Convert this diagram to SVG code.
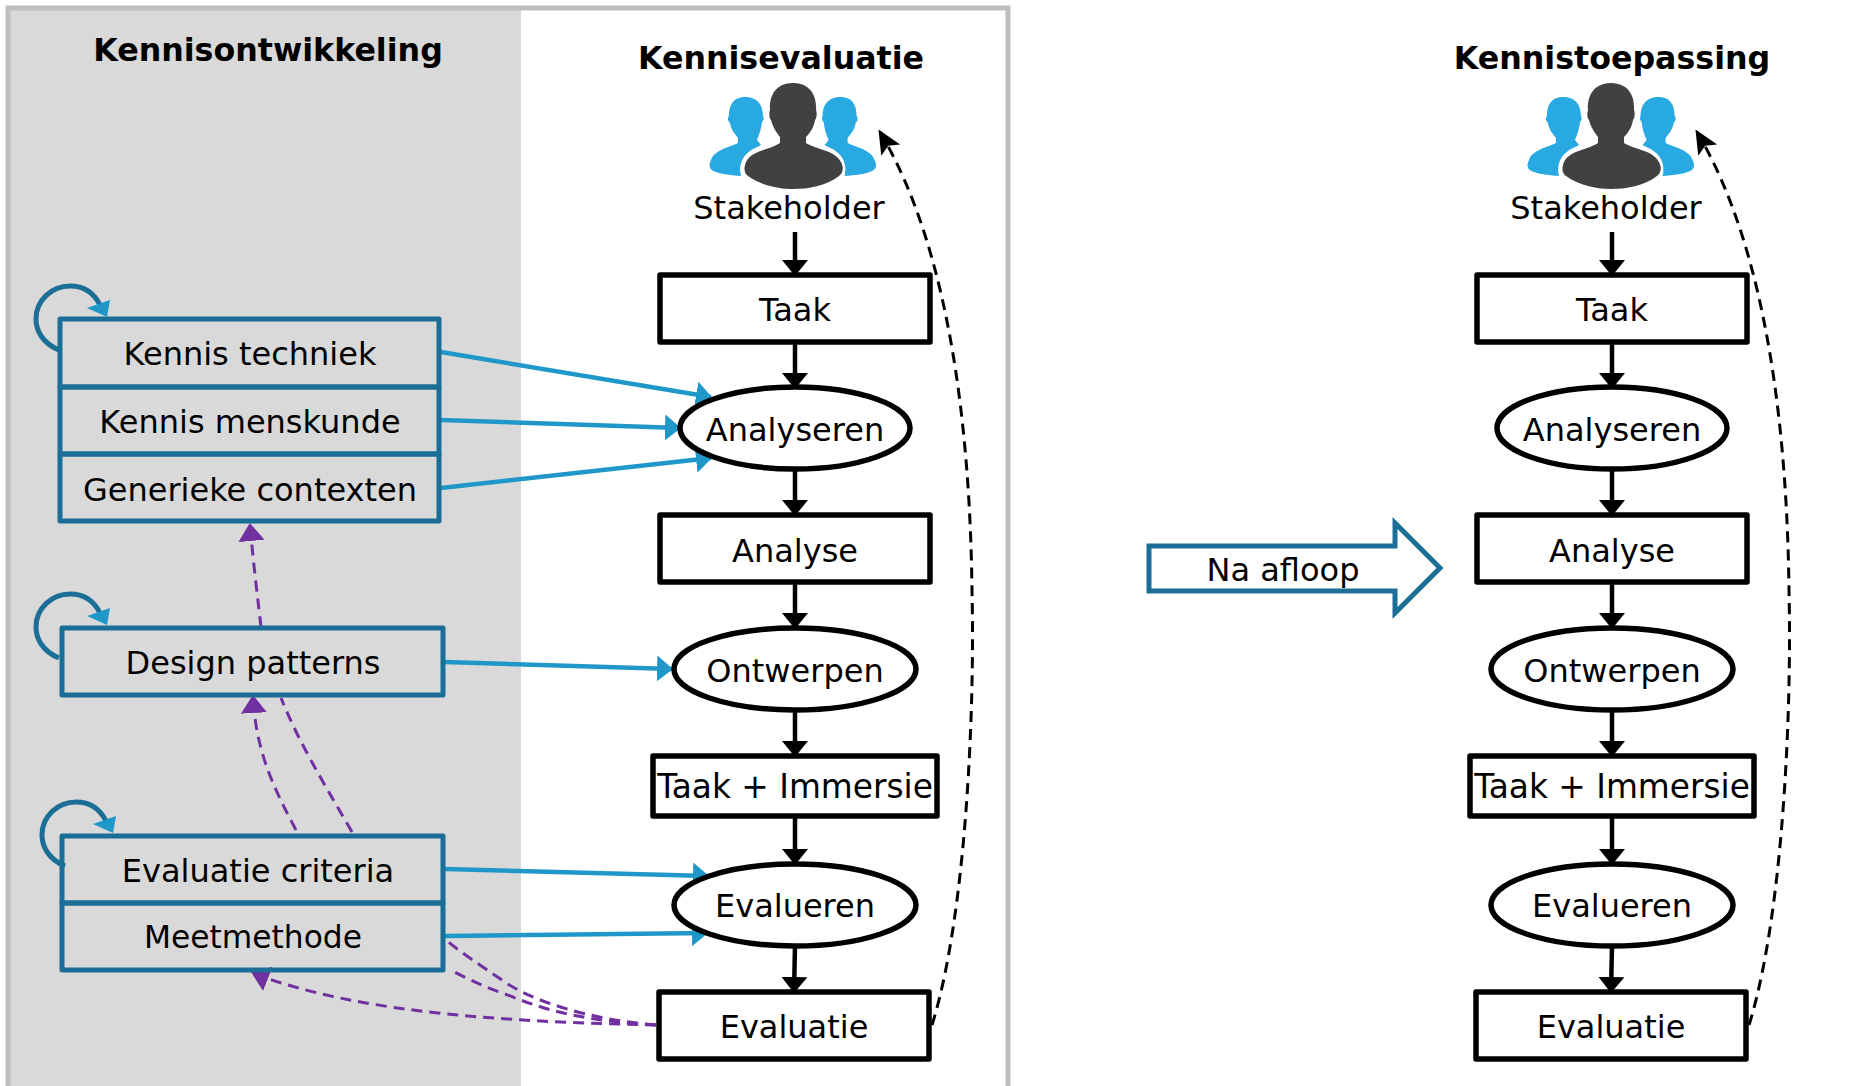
<svg xmlns="http://www.w3.org/2000/svg" xmlns:xlink="http://www.w3.org/1999/xlink" width="1849" height="1086" viewBox="0 0 1849 1086">
<style>
text{font-family:"DejaVu Sans",Verdana,sans-serif;font-size:32px;fill:#000;text-anchor:middle}
.h{font-weight:700;font-size:31.7px}
.w{font-size:32.8px}
.b{fill:#fff;stroke:#000;stroke-width:5.5;stroke-linejoin:round}
.k{fill:none;stroke:#1B6E95;stroke-width:5;stroke-linejoin:round}
.f{fill:none;stroke:#000;stroke-width:4.5}
.bl{fill:none;stroke:#1F97C8;stroke-width:4.5;marker-end:url(#mb)}
.p{fill:none;stroke:#7030A0;stroke-width:3;stroke-dasharray:11 7}
.d{fill:none;stroke:#000;stroke-width:3;stroke-dasharray:11 7;marker-end:url(#md)}
</style>
<defs>
<marker id="mf" markerUnits="userSpaceOnUse" markerWidth="16" markerHeight="26" refX="15" refY="13" orient="auto" viewBox="0 0 16 26"><path d="M0 0L16 13L0 26Z" fill="#000"/></marker>
<marker id="mb" markerUnits="userSpaceOnUse" markerWidth="16" markerHeight="26" refX="15" refY="13" orient="auto" viewBox="0 0 16 26"><path d="M0 0L16 13L0 26Z" fill="#1F97C8"/></marker>
<marker id="mp" markerUnits="userSpaceOnUse" markerWidth="18" markerHeight="26" refX="16" refY="13" orient="auto" viewBox="0 0 18 26"><path d="M0 0L18 13L0 26Z" fill="#7030A0"/></marker>
<marker id="md" markerUnits="userSpaceOnUse" markerWidth="24" markerHeight="24" refX="21" refY="12" orient="auto" viewBox="0 0 24 24"><path d="M0 1L24 12L0 23L5 12Z" fill="#000"/></marker>
<g id="loop">
<path d="M59 342C42 335 36 322 36 311C36 292 52 278 70 278C84 278 94 285 100 297" fill="none" stroke="#1B6E95" stroke-width="5"/>
<path d="M110 292L87 300L107 309Z" fill="#1F97C8"/>
</g>
<g id="people">
<g id="side"><path d="M745 97C732 97 729 107 729 116C727 118 728 121 730 123C731 130 735 134 738 138L738 143C730 147 714 150 711 160C707 168 712 171 716 172C724 175 732 175 741 176C739 168 740 158 750 151C752 149 758 147 761 145L757 140C759 135 761 130 762 122C764 120 764 118 763 116C763 107 759 97 745 97Z" fill="#29A9E1"/></g>
<use xlink:href="#side" href="#side" transform="translate(1585.6 0) scale(-1 1)"/>
<path d="M793 83C775 83 769 97 770 110C769 113 769 118 771 120C773 128 777 133 780 137L780 143C770 150 752 150 746 162C743 170 745 174 748 176C762 186 780 189 793 189C808 189 826 186 839 176C843 173 844 168 841 162C835 150 817 150 806 143L806 137C810 133 814 127 815 120C817 118 817 112 816 110C817 97 811 83 793 83Z" fill="#414042"/>
</g>
</defs>
<rect width="1849" height="1086" fill="#fff"/>
<g id="frame">
<rect x="8" y="8" width="513" height="1090" fill="#D9D9D9"/>
<rect x="8" y="8" width="1000" height="1090" fill="none" stroke="#BFBFBF" stroke-width="5"/>
</g>
<g id="titles">
<text class="h" x="268" y="61">Kennisontwikkeling</text>
<text class="h" x="781" y="69">Kennisevaluatie</text>
<text class="h" x="1612" y="69">Kennistoepassing</text>
</g>
<g id="connectors">
<g>
<path class="f" marker-end="url(#mf)" d="M795 232V275"/><path class="f" marker-end="url(#mf)" d="M795 342V388"/><path class="f" marker-end="url(#mf)" d="M795 469V515"/><path class="f" marker-end="url(#mf)" d="M795 582V628"/><path class="f" marker-end="url(#mf)" d="M795 710V756"/><path class="f" marker-end="url(#mf)" d="M795 816V864"/><path class="f" marker-end="url(#mf)" d="M795 946L794 992"/>
<path class="d" d="M932 1025C965 920 975 720 972 590C970 430 950 250 880 132"/>
</g>
<g transform="translate(817 0)">
<path class="f" marker-end="url(#mf)" d="M795 232V275"/><path class="f" marker-end="url(#mf)" d="M795 342V388"/><path class="f" marker-end="url(#mf)" d="M795 469V515"/><path class="f" marker-end="url(#mf)" d="M795 582V628"/><path class="f" marker-end="url(#mf)" d="M795 710V756"/><path class="f" marker-end="url(#mf)" d="M795 816V864"/><path class="f" marker-end="url(#mf)" d="M795 946L794 992"/>
<path class="d" d="M932 1025C965 920 975 720 972 590C970 430 950 250 880 132"/>
</g>
<path class="bl" d="M441 352L711 397"/>
<path class="bl" d="M441 420L680 428"/>
<path class="bl" d="M441 488L711 458"/>
<path class="bl" d="M445 662L672 669"/>
<path class="bl" d="M445 869L708 876"/>
<path class="bl" d="M445 936L707 933"/>
<path class="p" marker-end="url(#mp)" d="M261 627C258 600 254 570 250 525"/>
<path class="p" marker-end="url(#mp)" d="M296 830C272 785 256 750 253 697"/>
<path class="p" d="M352 832C325 785 300 745 281 698"/>
<path class="p" d="M656 1025C590 1020 530 1000 505 982C480 965 460 952 445 939"/>
<path class="p" d="M656 1025C590 1020 560 1016 505 994C485 987 465 978 451 970"/>
<path class="p" marker-end="url(#mp)" d="M656 1025C520 1022 360 1015 253 973"/>
<use xlink:href="#loop" href="#loop" transform="translate(0 8)"/>
<use xlink:href="#loop" href="#loop" transform="translate(0 316)"/>
<use xlink:href="#loop" href="#loop" transform="translate(6 524)"/>
</g>
<g id="kennis-group">
<g id="kennis-techniek"><path class="k" d="M60 319H439V387H60Z"/><text x="250" y="365">Kennis techniek</text></g>
<g id="kennis-menskunde"><path class="k" d="M60 387H439V454H60Z"/><text x="250" y="433">Kennis menskunde</text></g>
<g id="generieke-contexten"><path class="k" d="M60 454H439V521H60Z"/><text x="250" y="501">Generieke contexten</text></g>
</g>
<g id="design-patterns"><path class="k" d="M62 628H443V695H62Z"/><text x="253" y="674">Design patterns</text></g>
<g id="evaluatie-criteria"><path class="k" d="M62 836H443V903H62Z"/><text x="258" y="882">Evaluatie criteria</text></g>
<g id="meetmethode"><path class="k" d="M62 903H443V970H62Z"/><text x="253" y="948" style="font-size:31.3px">Meetmethode</text></g>
<g id="stakeholder-1"><use xlink:href="#people" href="#people"/><text x="789" y="219">Stakeholder</text></g>
<g id="taak-1"><rect class="b" x="660" y="275" width="270" height="67"/><text x="795" y="321">Taak</text></g>
<g id="analyseren-1"><ellipse class="b" cx="795" cy="428" rx="115" ry="41"/><text x="795" y="441">Analyseren</text></g>
<g id="analyse-1"><rect class="b" x="660" y="515" width="270" height="67"/><text x="795" y="562">Analyse</text></g>
<g id="ontwerpen-1"><ellipse class="b" cx="795" cy="669" rx="121" ry="41"/><text x="795" y="682">Ontwerpen</text></g>
<g id="taak-immersie-1"><rect class="b" x="653" y="756" width="284" height="60"/><text class="w" x="795" y="798">Taak + Immersie</text></g>
<g id="evalueren-1"><ellipse class="b" cx="795" cy="905" rx="121" ry="41"/><text x="795" y="917">Evalueren</text></g>
<g id="evaluatie-1"><rect class="b" x="659" y="992" width="270" height="67"/><text x="794" y="1038">Evaluatie</text></g>
<g id="stakeholder-2"><use xlink:href="#people" href="#people" transform="translate(818 0)"/><text x="1606" y="219">Stakeholder</text></g>
<g id="taak-2"><rect class="b" x="1477" y="275" width="270" height="67"/><text x="1612" y="321">Taak</text></g>
<g id="analyseren-2"><ellipse class="b" cx="1612" cy="428" rx="115" ry="41"/><text x="1612" y="441">Analyseren</text></g>
<g id="analyse-2"><rect class="b" x="1477" y="515" width="270" height="67"/><text x="1612" y="562">Analyse</text></g>
<g id="ontwerpen-2"><ellipse class="b" cx="1612" cy="669" rx="121" ry="41"/><text x="1612" y="682">Ontwerpen</text></g>
<g id="taak-immersie-2"><rect class="b" x="1470" y="756" width="284" height="60"/><text class="w" x="1612" y="798">Taak + Immersie</text></g>
<g id="evalueren-2"><ellipse class="b" cx="1612" cy="905" rx="121" ry="41"/><text x="1612" y="917">Evalueren</text></g>
<g id="evaluatie-2"><rect class="b" x="1476" y="992" width="270" height="67"/><text x="1611" y="1038">Evaluatie</text></g>
<g id="na-afloop"><path d="M1149 546H1395V523L1440 568L1395 613V591H1149Z" fill="#fff" stroke="#1B6E95" stroke-width="5"/><text x="1283" y="581">Na afloop</text></g>
</svg>
